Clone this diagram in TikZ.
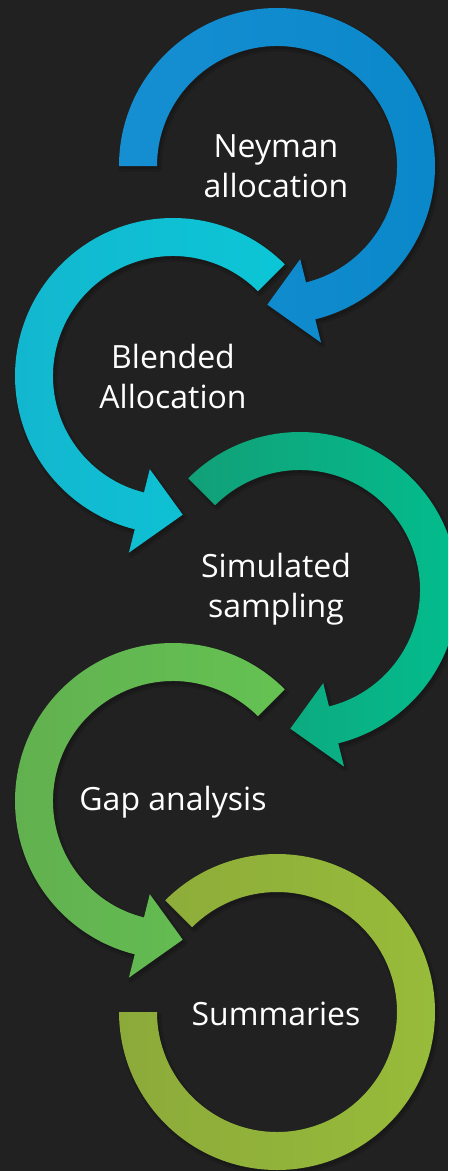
\documentclass[tikz,border=0pt]{standalone}
\usepackage{fontspec}
\setmainfont{Open Sans}
\definecolor{bg}{HTML}{212121}
\definecolor{bluea}{HTML}{168ED2}
\definecolor{blueb}{HTML}{06A2E2}
\definecolor{bluec}{HTML}{0A88CA}
\definecolor{cyana}{HTML}{13B6CE}
\definecolor{cyanb}{HTML}{02D2DE}
\definecolor{cyanc}{HTML}{0CC6D6}
\definecolor{teala}{HTML}{12A078}
\definecolor{tealb}{HTML}{00D29A}
\definecolor{tealc}{HTML}{02BE8E}
\definecolor{greena}{HTML}{62B050}
\definecolor{greenb}{HTML}{70C855}
\definecolor{greenc}{HTML}{64C252}
\definecolor{olivea}{HTML}{8CAA3A}
\definecolor{oliveb}{HTML}{A4C43C}
\definecolor{olivec}{HTML}{98BC3A}
\tikzset{
  label/.style={text=white, align=center, font=\fontsize{32}{40}\selectfont, inner sep=0pt},
  softshadow/.style={black, opacity=0.12, line width=5pt, line join=round},
}
% clockwise ring arrow from angle #1 to angle #2
\newcommand{\cwring}[2]{(#1:158) arc[start angle=#1, end angle=#2, radius=158]
  -- (#2:182) -- ({#2-18}:139) -- (#2:96) -- (#2:120)
  arc[start angle=#2, end angle=#1, radius=120] -- cycle}
% counter-clockwise ring arrow from angle #1 to angle #2
\newcommand{\ccwring}[2]{(#1:158) arc[start angle=#1, end angle=#2, radius=158]
  -- (#2:182) -- ({#2+18}:139) -- (#2:96) -- (#2:120)
  arc[start angle=#2, end angle=#1, radius=120] -- cycle}
\newcommand{\plainring}[2]{(#1:158) arc[start angle=#1, end angle=#2, radius=158]
  -- (#2:120) arc[start angle=#2, end angle=#1, radius=120] -- cycle}
\begin{document}
\begin{tikzpicture}[x=1pt,y=1pt]
\useasboundingbox (0,0) rectangle (448,-1171);
\fill[bg] (0,0) rectangle (448,-1171);
\clip (0,0) rectangle (448,-1171);
\coordinate (c1) at (277,-166);
\coordinate (c2) at (173,-376);
\coordinate (c3) at (300,-590);
\coordinate (c4) at (173,-801);
\coordinate (c5) at (277,-1012);
% ring 1
\begin{scope}[shift={(c1)}]
\filldraw[softshadow, shift={(2,-3)}] \cwring{180}{-76};
\shade[left color=bluea, middle color=blueb, right color=bluec] \cwring{180}{-76};
\end{scope}
% ring 2
\begin{scope}[shift={(c2)}]
\filldraw[softshadow, shift={(2,-3)}] \ccwring{45}{256};
\shade[left color=cyana, middle color=cyanb, right color=cyanc] \ccwring{45}{256};
\end{scope}
% ring 3
\begin{scope}[shift={(c3)}]
\filldraw[softshadow, shift={(2,-3)}] \cwring{135}{-76};
\shade[left color=teala, middle color=tealb, right color=tealc] \cwring{135}{-76};
\end{scope}
% ring 4
\begin{scope}[shift={(c4)}]
\filldraw[softshadow, shift={(2,-3)}] \ccwring{45}{256};
\shade[left color=greena, middle color=greenb, right color=greenc] \ccwring{45}{256};
\end{scope}
% ring 5
\begin{scope}[shift={(c5)}]
\filldraw[softshadow, shift={(2,-3)}] \plainring{135}{-180};
\shade[left color=olivea, middle color=oliveb, right color=olivec] \plainring{135}{-180};
\end{scope}
\node[label] (n1) at (276,-166) {Neyman\\allocation};
\node[label] (n2) at (173,-376) {Blended\\Allocation};
\node[label] (n3) at (276,-589) {Simulated\\sampling};
\node[label] (n4) at (173,-802) {Gap analysis};
\node[label] (n5) at (276,-1014) {Summaries};
\end{tikzpicture}
\end{document}
